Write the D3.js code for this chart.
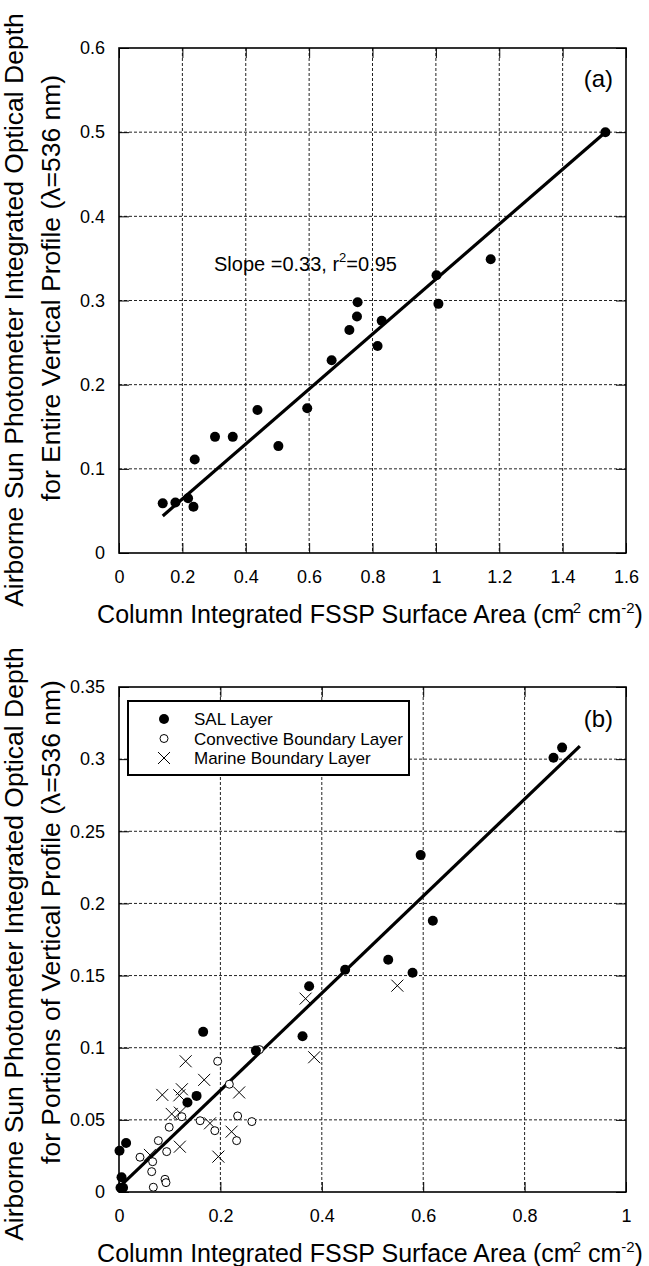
<!DOCTYPE html>
<html>
<head>
<meta charset="utf-8">
<script src="https://cdn.jsdelivr.net/npm/d3@7"></script>
<style>
  body { margin: 0; background: #fff; }
  svg { display: block; font-family: "Liberation Sans", Arial, sans-serif; }
</style>
</head>
<body>
<svg id="chart" width="649" height="1266"></svg>
<script>
// ---- panel (a): entire vertical profile ----
const aPoints = [
  [1.535, 0.500], [1.173, 0.349], [1.002, 0.330], [1.008, 0.296],
  [0.753, 0.298], [0.751, 0.281], [0.829, 0.276], [0.727, 0.265],
  [0.816, 0.246], [0.671, 0.229], [0.594, 0.172], [0.437, 0.170],
  [0.303, 0.138], [0.359, 0.138], [0.503, 0.127], [0.239, 0.111],
  [0.138, 0.059], [0.178, 0.060], [0.218, 0.065], [0.235, 0.055]
];
const aFit = [[0.138, 0.044], [1.535, 0.500]];
const aXTicks = [0, 0.2, 0.4, 0.6, 0.8, 1, 1.2, 1.4, 1.6];
const aYTicks = [0, 0.1, 0.2, 0.3, 0.4, 0.5, 0.6];

// ---- panel (b): portions of vertical profile ----
const salPoints = [
  [0.857, 0.301], [0.874, 0.308], [0.595, 0.2335], [0.619, 0.188],
  [0.531, 0.161], [0.579, 0.152], [0.446, 0.154], [0.375, 0.1426],
  [0.362, 0.108], [0.270, 0.098], [0.166, 0.111], [0.153, 0.0666],
  [0.135, 0.062], [0.014, 0.034], [0.001, 0.0286], [0.005, 0.0102],
  [0.003, 0.003], [0.008, 0.003]
];
const cblPoints = [
  [0.277, 0.0987], [0.1946, 0.0906], [0.2176, 0.0747], [0.124, 0.0522],
  [0.099, 0.0449], [0.160, 0.0494], [0.189, 0.0425], [0.234, 0.0527],
  [0.262, 0.0488], [0.232, 0.0356], [0.0776, 0.0356], [0.094, 0.028],
  [0.0414, 0.0241], [0.0664, 0.021], [0.0645, 0.0141], [0.0907, 0.0088],
  [0.0927, 0.0065], [0.0677, 0.0033]
];
const mblPoints = [
  [0.549, 0.143], [0.368, 0.134], [0.385, 0.0934], [0.1315, 0.0906],
  [0.168, 0.0777], [0.237, 0.069], [0.124, 0.0712], [0.119, 0.067],
  [0.0854, 0.0673], [0.104, 0.0541], [0.12, 0.055], [0.1795, 0.0476],
  [0.222, 0.0418], [0.196, 0.0245], [0.120, 0.0314], [0.061, 0.0257]
];
const bFit = [[0.005, 0.0049], [0.909, 0.309]];
const bXTicks = [0, 0.2, 0.4, 0.6, 0.8, 1];
const bYTicks = [0, 0.05, 0.1, 0.15, 0.2, 0.25, 0.3, 0.35];
const legendLabels = ["SAL Layer", "Convective Boundary Layer", "Marine Boundary Layer"];

const svg = d3.select("#chart");
const fmt = d3.format("~g");
const crossPath = "M-6,-6L6,6M-6,6L6,-6";

function drawPanel(box, xDomain, yDomain, xTicks, yTicks) {
  const x = d3.scaleLinear().domain(xDomain).range([box.left, box.right]);
  const y = d3.scaleLinear().domain(yDomain).range([box.bottom, box.top]);
  const g = svg.append("g");

  // dashed grid
  const grid = g.append("g")
    .attr("stroke", "#222")
    .attr("stroke-width", 1)
    .attr("stroke-dasharray", "3,2");
  grid.selectAll("line.gx")
    .data(xTicks.slice(1, -1))
    .join("line")
      .attr("class", "gx")
      .attr("x1", d => x(d)).attr("x2", d => x(d))
      .attr("y1", box.top).attr("y2", box.bottom);
  grid.selectAll("line.gy")
    .data(yTicks.slice(1, -1))
    .join("line")
      .attr("class", "gy")
      .attr("y1", d => y(d)).attr("y2", d => y(d))
      .attr("x1", box.left).attr("x2", box.right);

  const styleAxis = a => {
    a.attr("font-size", 18).attr("font-family", null);
    a.select(".domain").remove();
    a.selectAll(".tick line").attr("stroke", "#000").attr("stroke-width", 1);
    a.selectAll(".tick text").attr("fill", "#000");
  };

  g.append("g")
    .attr("transform", `translate(0,${box.bottom})`)
    .call(d3.axisBottom(x).tickValues(xTicks).tickSize(-10).tickPadding(17).tickFormat(fmt))
    .call(styleAxis);
  g.append("g")
    .attr("transform", `translate(${box.left},0)`)
    .call(d3.axisLeft(y).tickValues(yTicks).tickSize(-10).tickPadding(14).tickFormat(fmt))
    .call(styleAxis);
  g.append("g")
    .attr("transform", `translate(0,${box.top})`)
    .call(d3.axisTop(x).tickValues(xTicks).tickSize(-10).tickFormat(""))
    .call(styleAxis);
  g.append("g")
    .attr("transform", `translate(${box.right},0)`)
    .call(d3.axisRight(y).tickValues(yTicks).tickSize(-10).tickFormat(""))
    .call(styleAxis);

  g.append("rect")
    .attr("x", box.left).attr("y", box.top)
    .attr("width", box.right - box.left)
    .attr("height", box.bottom - box.top)
    .attr("fill", "none")
    .attr("stroke", "#000")
    .attr("stroke-width", 1.6);

  return {g, x, y};
}

function yTitle(cy, line1, line2) {
  const t = svg.append("g").attr("font-size", 26.5).attr("fill", "#000");
  t.append("text")
    .attr("transform", `translate(23,${cy}) rotate(-90)`)
    .attr("text-anchor", "middle")
    .text(line1);
  t.append("text")
    .attr("transform", `translate(60,${cy - 22}) rotate(-90)`)
    .attr("text-anchor", "middle")
    .text(line2);
}

function xTitle(cx, by) {
  const t = svg.append("text")
    .attr("x", cx).attr("y", by)
    .attr("text-anchor", "middle")
    .attr("font-size", 25);
  t.append("tspan").text("Column Integrated FSSP Surface Area (cm");
  t.append("tspan").attr("dx", -2).attr("dy", -10).attr("font-size", 15).text("2");
  t.append("tspan").attr("dy", 10).text(" cm");
  t.append("tspan").attr("dy", -10).attr("font-size", 15).text("-2");
  t.append("tspan").attr("dy", 10).text(")");
}

const line = d3.line();

// ---------- panel (a) ----------
const boxA = {left: 119, right: 626, top: 48, bottom: 553};
const pa = drawPanel(boxA, [0, 1.6], [0, 0.6], aXTicks, aYTicks);

pa.g.append("path")
  .attr("d", line(aFit.map(d => [pa.x(d[0]), pa.y(d[1])])))
  .attr("stroke", "#000")
  .attr("stroke-width", 3.2)
  .attr("fill", "none");

pa.g.selectAll("circle.pt")
  .data(aPoints)
  .join("circle")
    .attr("class", "pt")
    .attr("cx", d => pa.x(d[0]))
    .attr("cy", d => pa.y(d[1]))
    .attr("r", 5)
    .attr("fill", "#000");

const slopeText = pa.g.append("text")
  .attr("x", 214).attr("y", 271)
  .attr("font-size", 20);
slopeText.append("tspan").text("Slope =0.33, r");
slopeText.append("tspan").attr("dy", -9).attr("font-size", 13).text("2");
slopeText.append("tspan").attr("dy", 9).text("=0.95");

pa.g.append("text")
  .attr("x", boxA.right - 13).attr("y", 87)
  .attr("text-anchor", "end")
  .attr("font-size", 24)
  .text("(a)");

yTitle(310,
  "Airborne Sun Photometer Integrated Optical Depth",
  "for Entire Vertical Profile (\u03bb=536 nm)");
xTitle(370, 623);

// ---------- panel (b) ----------
const boxB = {left: 119, right: 626, top: 687, bottom: 1192};
const pb = drawPanel(boxB, [0, 1], [0, 0.35], bXTicks, bYTicks);

pb.g.append("path")
  .attr("d", line(bFit.map(d => [pb.x(d[0]), pb.y(d[1])])))
  .attr("stroke", "#000")
  .attr("stroke-width", 3.2)
  .attr("fill", "none");

pb.g.selectAll("path.mbl")
  .data(mblPoints)
  .join("path")
    .attr("class", "mbl")
    .attr("transform", d => `translate(${pb.x(d[0])},${pb.y(d[1])})`)
    .attr("d", crossPath)
    .attr("stroke", "#000")
    .attr("stroke-width", 1)
    .attr("fill", "none");

pb.g.selectAll("circle.cbl")
  .data(cblPoints)
  .join("circle")
    .attr("class", "cbl")
    .attr("cx", d => pb.x(d[0]))
    .attr("cy", d => pb.y(d[1]))
    .attr("r", 4)
    .attr("fill", "#fff")
    .attr("stroke", "#000")
    .attr("stroke-width", 1);

pb.g.selectAll("circle.sal")
  .data(salPoints)
  .join("circle")
    .attr("class", "sal")
    .attr("cx", d => pb.x(d[0]))
    .attr("cy", d => pb.y(d[1]))
    .attr("r", 5)
    .attr("fill", "#000");

pb.g.append("text")
  .attr("x", boxB.right - 13).attr("y", 727)
  .attr("text-anchor", "end")
  .attr("font-size", 24)
  .text("(b)");

// legend
const legend = pb.g.append("g").attr("transform", "translate(128,701)");
legend.append("rect")
  .attr("width", 281).attr("height", 74)
  .attr("fill", "#fff")
  .attr("stroke", "#000")
  .attr("stroke-width", 2);

const rows = legend.selectAll("g.row")
  .data(legendLabels)
  .join("g")
    .attr("class", "row")
    .attr("transform", (d, i) => `translate(36,${18 + i * 19.5})`);

rows.append("text")
  .attr("x", 30).attr("y", 6)
  .attr("font-size", 17)
  .text(d => d);

rows.filter((d, i) => i === 0).append("circle").attr("r", 5).attr("fill", "#000");
rows.filter((d, i) => i === 1).append("circle")
  .attr("r", 4).attr("fill", "#fff").attr("stroke", "#000");
rows.filter((d, i) => i === 2).append("path")
  .attr("d", crossPath).attr("stroke", "#000").attr("fill", "none");

yTitle(944,
  "Airborne Sun Photometer Integrated Optical Depth",
  "for Portions of Vertical Profile (\u03bb=536 nm)");
xTitle(370, 1262);
</script>
</body>
</html>
